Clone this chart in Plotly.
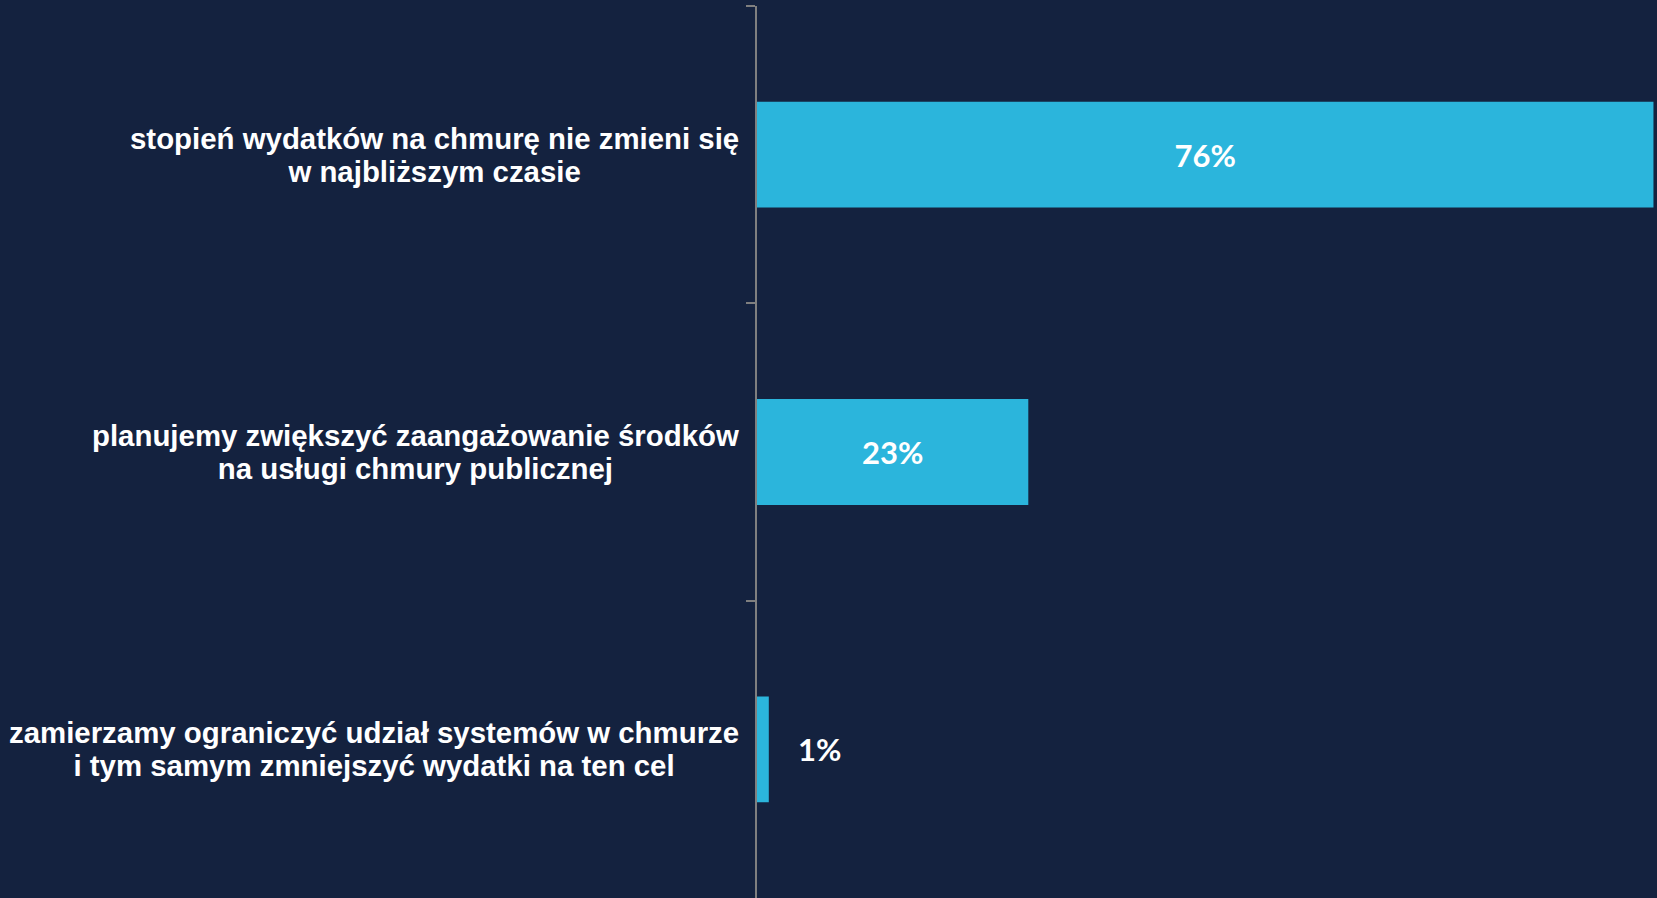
import plotly.graph_objects as go

categories = [
    "stopień wydatków na chmurę nie zmieni się<br>w najbliższym czasie",
    "planujemy zwiększyć zaangażowanie środków<br>na usługi chmury publicznej",
    "zamierzamy ograniczyć udział systemów w chmurze<br>i tym samym zmniejszyć wydatki na ten cel",
]
values = [76, 23, 1]
value_labels = ["76%", "23%", "1%"]

BG = "#14223F"
BAR = "#2BB5DC"
AXIS = "#7F7F7F"

inside_text = [t if v >= 5 else "" for v, t in zip(values, value_labels)]

fig = go.Figure()
fig.add_trace(go.Bar(
    x=values,
    y=categories,
    orientation="h",
    marker=dict(color=BAR, line=dict(width=0)),
    width=0.356,
    text=inside_text,
    textposition="inside",
    insidetextanchor="middle",
    textfont=dict(family="Lato", size=31, color="white", weight="bold"),
    hoverinfo="skip",
))


def styled(label):
    parts = label.split("<br>")
    return "<br>".join(
        '<span style="font-size:29.4px"><b>' + p + "</b></span>" for p in parts
    )


annotations = []
for cat in categories:
    annotations.append(dict(
        x=0, xref="paper", y=cat, yref="y",
        text=styled(cat),
        showarrow=False, xanchor="right", yanchor="middle",
        align="center", xshift=-16,
        font=dict(family="Arial", size=25.4, color="white"),
    ))
for cat, v, t in zip(categories, values, value_labels):
    if v < 5:
        annotations.append(dict(
            x=v, xref="x", y=cat, yref="y",
            text=t, showarrow=False, xanchor="left", yanchor="middle",
            xshift=27,
            font=dict(family="Lato", size=31, color="white", weight="bold"),
        ))

fig.update_layout(
    width=1657, height=898,
    paper_bgcolor=BG, plot_bgcolor=BG,
    margin=dict(l=757, r=0, t=6, b=0),
    showlegend=False,
    annotations=annotations,
    xaxis=dict(range=[0, 76.3], showgrid=False, zeroline=False, showline=False,
               showticklabels=False, ticks=""),
    yaxis=dict(autorange="reversed", showgrid=False, zeroline=False,
               showline=True, linecolor=AXIS, linewidth=2,
               ticks="outside", tickson="boundaries", ticklen=9,
               tickcolor=AXIS, tickwidth=2, showticklabels=False),
)

fig.write_html(
    "out.html",
    config={"displayModeBar": False},
    post_script="document.body.style.margin='0';document.body.style.overflow='hidden';document.body.style.background='" + BG + "';",
)
